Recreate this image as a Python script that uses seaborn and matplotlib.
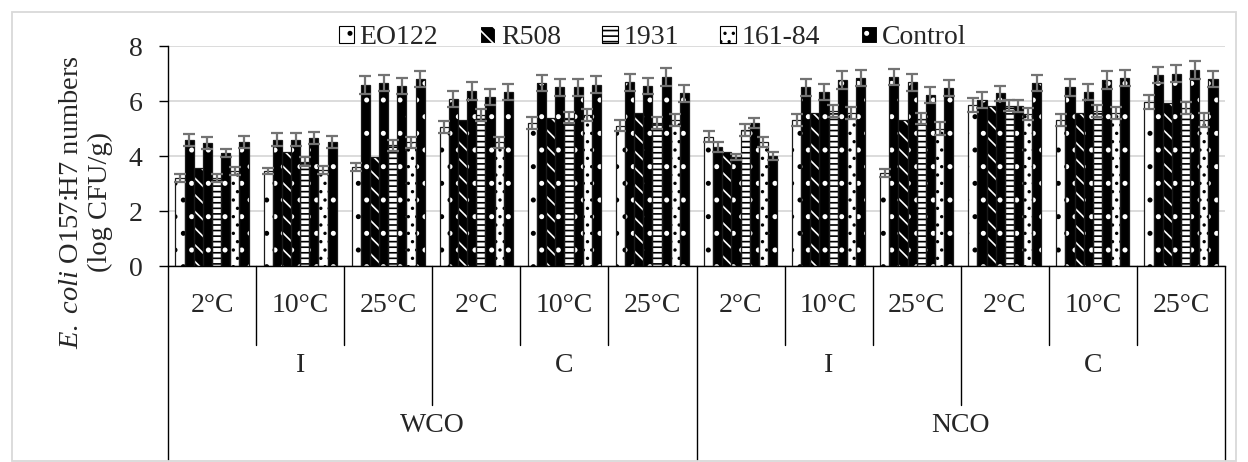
import numpy as np
import pandas as pd
import matplotlib
matplotlib.use("Agg")
import matplotlib.pyplot as plt
import seaborn as sns
from matplotlib.patches import Patch, Rectangle
from matplotlib.lines import Line2D
from matplotlib.transforms import blended_transform_factory

# ---------------- data ----------------
oils = ["WCO"] * 6 + ["NCO"] * 6
storage = ["I", "I", "I", "C", "C", "C"] * 2
temps = ["2°C", "10°C", "25°C"] * 4

eo122      = [3.20, 3.45, 3.60, 5.05, 5.20, 5.10, 4.70, 5.30, 3.38, 5.85, 5.30, 5.96]
ctrl_eo122 = [4.58, 4.60, 6.58, 6.07, 6.65, 6.68, 4.33, 6.50, 6.88, 6.04, 6.50, 6.95]
r508       = [3.56, 4.15, 3.96, 5.30, 5.40, 5.55, 4.15, 5.55, 5.30, 5.82, 5.55, 5.92]
ctrl_r508  = [4.47, 4.60, 6.65, 6.36, 6.50, 6.55, 3.97, 6.33, 6.68, 6.28, 6.33, 7.00]
s1931      = [3.20, 3.80, 4.40, 5.49, 5.40, 5.20, 4.95, 5.64, 5.35, 5.82, 5.64, 5.75]
ctrl_1931  = [4.10, 4.65, 6.55, 6.15, 6.50, 6.88, 5.20, 6.76, 6.22, 5.82, 6.76, 7.13]
s16184     = [3.45, 3.50, 4.50, 4.50, 5.50, 5.30, 4.50, 5.55, 5.00, 5.53, 5.57, 5.30]
ctrl_16184 = [4.50, 4.50, 6.80, 6.33, 6.60, 6.28, 4.00, 6.83, 6.47, 6.65, 6.83, 6.80]

err_eo122      = [0.15, 0.12, 0.15, 0.22, 0.22, 0.20, 0.20, 0.22, 0.15, 0.25, 0.22, 0.25]
err_ctrl_eo122 = [0.22, 0.22, 0.33, 0.30, 0.30, 0.30, 0.18, 0.30, 0.30, 0.28, 0.30, 0.30]
err_r508       = [0.0] * 12
err_ctrl_r508  = [0.22, 0.25, 0.30, 0.32, 0.30, 0.30, 0.10, 0.30, 0.30, 0.28, 0.30, 0.30]
err_1931       = [0.15, 0.18, 0.20, 0.22, 0.20, 0.22, 0.22, 0.22, 0.20, 0.20, 0.22, 0.22]
err_ctrl_1931  = [0.15, 0.22, 0.30, 0.30, 0.30, 0.32, 0.18, 0.32, 0.30, 0.22, 0.32, 0.32]
err_16184      = [0.15, 0.15, 0.20, 0.20, 0.22, 0.22, 0.18, 0.22, 0.22, 0.22, 0.22, 0.25]
err_ctrl_16184 = [0.22, 0.22, 0.30, 0.30, 0.30, 0.30, 0.15, 0.30, 0.30, 0.30, 0.30, 0.30]

bar_names = ["EO122", "Ctrl EO122", "R508", "Ctrl R508",
             "1931", "Ctrl 1931", "161-84", "Ctrl 161-84"]
bar_values = [eo122, ctrl_eo122, r508, ctrl_r508, s1931, ctrl_1931, s16184, ctrl_16184]
bar_errors = [err_eo122, err_ctrl_eo122, err_r508, err_ctrl_r508,
              err_1931, err_ctrl_1931, err_16184, err_ctrl_16184]
legend_labels = ["EO122", "R508", "1931", "161-84", "Control"]

group_ids = [f"{o}-{s}-{t}" for o, s, t in zip(oils, storage, temps)]
rows = []
for name, vals in zip(bar_names, bar_values):
    for g, v in zip(group_ids, vals):
        rows.append({"group": g, "series": name, "value": v})
df = pd.DataFrame(rows)

# ---------------- style ----------------
sns.set_theme(style="white")
plt.rcParams["font.family"] = ["Liberation Serif", "DejaVu Serif"]
plt.rcParams["mathtext.fontset"] = "custom"
plt.rcParams["mathtext.rm"] = "Liberation Serif"
plt.rcParams["mathtext.it"] = "Liberation Serif:italic"
plt.rcParams["hatch.linewidth"] = 1.2

W, H = 1248, 462
fig = plt.figure(figsize=(W / 100, H / 100), dpi=100)
x0, x1, y0, y1 = 168, 1225, 46, 266
ax = fig.add_axes([x0 / W, 1 - y1 / H, (x1 - x0) / W, (y1 - y0) / H])

sns.barplot(data=df, x="group", y="value", hue="series", hue_order=bar_names,
            order=group_ids, width=0.83, dodge=True, errorbar=None,
            legend=False, ax=ax)

styles = {
    "EO122":   dict(face="white", hatch=".", hc="black"),
    "R508":    dict(face="black", hatch="\\\\", hc="white"),
    "1931":    dict(face="white", hatch="---", hc="black"),
    "161-84":  dict(face="white", hatch="..", hc="black"),
    "Control": dict(face="black", hatch=".", hc="white"),
}
series_style = ["EO122", "Control", "R508", "Control", "1931", "Control", "161-84", "Control"]

for cont, st_name, errs in zip(ax.containers, series_style, bar_errors):
    st = styles[st_name]
    xs, hs = [], []
    for p in cont.patches:
        p.set_facecolor(st["face"])
        p.set_edgecolor(st["hc"])
        p.set_hatch(st["hatch"])
        p.set_linewidth(0)
        ax.add_patch(Rectangle(p.get_xy(), p.get_width(), p.get_height(),
                               fill=False, edgecolor="#1a1a1a", lw=0.9, zorder=p.get_zorder() + 0.1))
        xs.append(p.get_x() + p.get_width() / 2)
        hs.append(p.get_height())
    if any(e > 0 for e in errs):
        ax.errorbar(xs, hs, yerr=errs, fmt="none", ecolor="#737373",
                    elinewidth=1.6, capsize=4.2, capthick=1.6, zorder=5)

ax.set_xlim(-0.5, 11.5)
ax.set_ylim(0, 8)
ax.set_yticks([0, 2, 4, 6, 8])
ax.yaxis.grid(True, color="#d9d9d9", lw=1.3)
ax.set_axisbelow(True)
for s in ["top", "right"]:
    ax.spines[s].set_visible(False)
ax.spines["left"].set_color("black")
ax.spines["bottom"].set_color("black")
ax.spines["left"].set_linewidth(1.0)
ax.spines["bottom"].set_linewidth(1.0)
ax.tick_params(axis="y", direction="out", length=6.5, width=1, color="black",
               pad=12, labelsize=20, left=True)
ax.tick_params(axis="x", length=0, labelbottom=False)
ax.set_xlabel("")
ax.set_ylabel(r"$\it{E.\ coli}$ O157:H7 numbers" + "\n(log CFU/g)",
              fontsize=20.5, linespacing=1.2)
ax.yaxis.set_label_coords(-0.052, 0.29)

# ---------------- multi-level category axis ----------------
tr = blended_transform_factory(ax.transData, fig.transFigure)
def fy(px):
    return 1 - px / H

for b in range(13):
    xb = b - 0.5
    if b in (0, 6, 12):
        yend = 460
    elif b in (3, 9):
        yend = 405
    else:
        yend = 345
    ax.add_artist(Line2D([xb, xb], [fy(y1), fy(yend)], transform=tr,
                         color="black", lw=1.0, clip_on=False))

for i, t in enumerate(temps):
    ax.text(i, fy(305), t, transform=tr, ha="center", va="center", fontsize=20)
for k in range(4):
    ax.text(3 * k + 1, fy(365), storage[3 * k], transform=tr,
            ha="center", va="center", fontsize=20)
for k in range(2):
    ax.text(6 * k + 2.5, fy(425), oils[6 * k], transform=tr,
            ha="center", va="center", fontsize=20)

# ---------------- legend ----------------
handles = [Patch(facecolor=styles[n]["face"], edgecolor=styles[n]["hc"] if n != "EO122" else "black",
                 hatch=styles[n]["hatch"], lw=0.8) for n in legend_labels]
fig.legend(handles, legend_labels, loc="center", bbox_to_anchor=(0.523, 0.918),
           ncol=5, frameon=False, fontsize=20, handlelength=0.55, handleheight=0.55,
           handletextpad=0.2, columnspacing=1.5, borderpad=0)

# chart-area border
fig.add_artist(Rectangle((12 / W, 0.002), (W - 24) / W, 1 - 12 / H - 0.002,
                         transform=fig.transFigure, fill=False,
                         edgecolor="#d9d9d9", lw=1.3))

fig.savefig("out.png", dpi=100)
